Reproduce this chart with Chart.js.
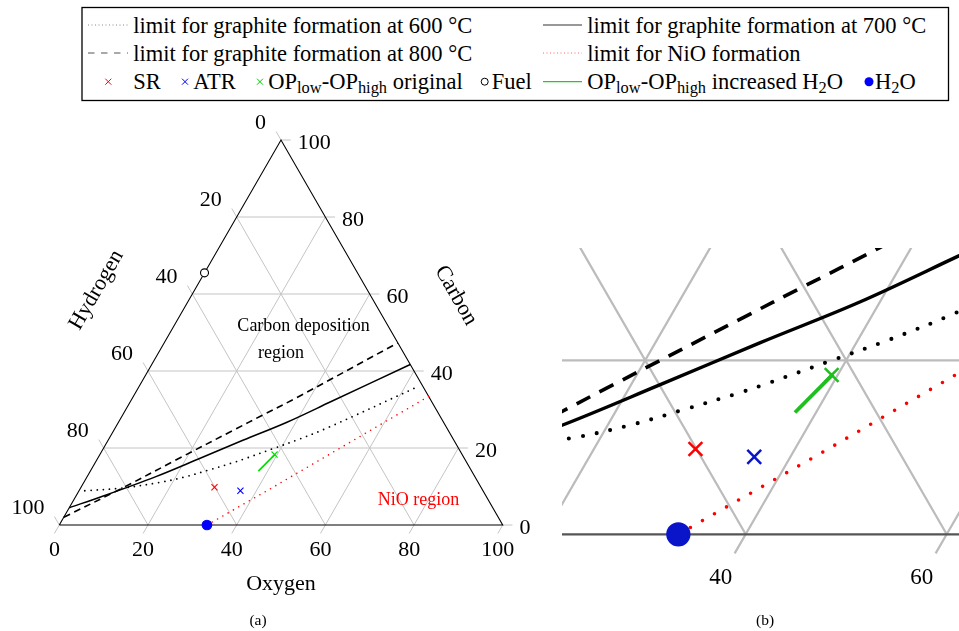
<!DOCTYPE html>
<html>
<head>
<meta charset="utf-8">
<script src="https://cdn.jsdelivr.net/npm/chart.js@4.4.0/dist/chart.umd.min.js"></script>
<style>
  html, body { margin: 0; padding: 0; background: #fff; }
  body { width: 959px; height: 631px; position: relative; overflow: hidden; }
  #legend { position: absolute; left: 0; top: 0; }
  #ternaryFull { position: absolute; left: 0; top: 0; }
  #ternaryZoom { position: absolute; left: 562px; top: 248px; }
</style>
</head>
<body>
<svg id="legend" width="959" height="110" font-family="Liberation Serif" font-size="22.5">
  <rect x="82" y="7.5" width="866.5" height="93" fill="none" stroke="#000" stroke-width="1.3"/>
  <line x1="88" x2="128" y1="25" y2="25" stroke="#888" stroke-width="1" stroke-dasharray="1 2.5"/>
  <line x1="88" x2="128" y1="53" y2="53" stroke="#555" stroke-width="1.2" stroke-dasharray="6.5 6.5"/>
  <line x1="543" x2="582" y1="25" y2="25" stroke="#333" stroke-width="1.2"/>
  <line x1="543" x2="582" y1="53" y2="53" stroke="#f66" stroke-width="1" stroke-dasharray="1 2.5"/>
  <line x1="543" x2="582" y1="81.7" y2="81.7" stroke="#2c2" stroke-width="1.3"/>
  <path d="M105.3 78.7 L111.3 84.7 M105.3 84.7 L111.3 78.7" stroke="#f00" stroke-width="1"/>
  <path d="M182 78.7 L188 84.7 M182 84.7 L188 78.7" stroke="#00f" stroke-width="1"/>
  <path d="M257 78.7 L263 84.7 M257 84.7 L263 78.7" stroke="#0c0" stroke-width="1"/>
  <circle cx="484.7" cy="81.7" r="3.5" fill="none" stroke="#000" stroke-width="1"/>
  <circle cx="869" cy="81.7" r="4.5" fill="#00f"/>
  <text x="133.3" y="33.3">limit for graphite formation at 600 °C</text>
  <text x="587.3" y="33.3">limit for graphite formation at 700 °C</text>
  <text x="133.3" y="61">limit for graphite formation at 800 °C</text>
  <text x="587.3" y="61">limit for NiO formation</text>
  <text x="133.3" y="89.3">SR</text>
  <text x="193.3" y="89.3">ATR</text>
  <text x="268.3" y="89.3">OP<tspan font-size="16.4" dy="4">low</tspan><tspan dy="-4">-OP</tspan><tspan font-size="16.4" dy="4">high</tspan><tspan dy="-4"> original</tspan></text>
  <text x="491.7" y="89.3">Fuel</text>
  <text x="587.3" y="89.3">OP<tspan font-size="16.4" dy="4">low</tspan><tspan dy="-4">-OP</tspan><tspan font-size="16.4" dy="4">high</tspan><tspan dy="-4"> increased H</tspan><tspan font-size="16.4" dy="4">2</tspan><tspan dy="-4">O</tspan></text>
  <text x="875" y="89.3">H<tspan font-size="16.4" dy="4">2</tspan><tspan dy="-4">O</tspan></text>
</svg>
<canvas id="ternaryFull" width="560" height="631"></canvas>
<canvas id="ternaryZoom" width="397" height="383"></canvas>
<script>
// Axis ticks, same for oxygen, carbon and hydrogen (mol-%)
const tickValues = [0, 20, 40, 60, 80, 100];

// Graphite formation limits as oxygen / carbon percentages, hydrogen is the remainder
const oxygen600 = [1.3, 9.3, 17.3, 22.1, 26.6, 31.1, 33.4, 38.6, 42.8, 47.8, 63.0];
const carbon600 = [8.9, 9.6, 11.1, 12.5, 14.3, 16.2, 17.3, 20.0, 22.2, 25.2, 36.0];
const oxygen700 = [0, 5.9, 15.4, 22.9, 30.4, 38.0, 45.2, 58.3];
const carbon700 = [4.5, 7.4, 12.5, 17.2, 22.0, 26.7, 32.0, 41.7];
const oxygen800 = [0, 9.3, 18.0, 27.4, 31.3, 36.8, 52.7];
const carbon800 = [2.0, 9.5, 17.0, 25.0, 28.3, 32.9, 47.3];

// NiO formation limit
const oxygenNiO = [33.3, 43.0, 66.6];
const carbonNiO = [0, 9.5, 33.4];

// Operating points
const oxygenSR = [30.1], carbonSR = [9.8];
const oxygenATR = [36.4], carbonATR = [8.9];
const oxygenOPorig = [39.4], carbonOPorig = [18.3];
const oxygenOPh2o = [37.9, 39.5], carbonOPh2o = [14.0, 18.4];
const oxygenFuel = [0], carbonFuel = [65.5];
const oxygenH2O = [33.3], carbonH2O = [0];

const TICK = 2.2; // tick length in % of the triangle side
const SERIF = "'Liberation Serif', 'Times New Roman', serif";

// ternary (oxygen, carbon) -> cartesian (x along base, y = carbon)
function pt(o, c) { return { x: o + c / 2, y: c }; }
function series(oArr, cArr) { return oArr.map((o, i) => pt(o, cArr[i])); }

function buildDatasets(k, colors) {
  const sets = [];
  const line = (data, color, width, order, extra) => Object.assign({
    data, showLine: true, borderColor: color, borderWidth: width * k,
    pointRadius: 0, fill: false, clip: false, order
  }, extra || {});
  const dotted = (spacing) => ({ borderDash: [0, spacing * k], borderCapStyle: 'round' });

  // grid lines plus ticks sticking out of the triangle
  tickValues.forEach(t => {
    if (t > 0 && t < 100) {
      const cLeft = pt(0, t), cRight = pt(100 - t, t);
      sets.push(line([cLeft, cRight, { x: cRight.x + TICK, y: t }], colors.grid, 1, 4));
      const oTop = pt(t, 100 - t), oBase = pt(t, 0);
      sets.push(line([oTop, oBase, { x: oBase.x - TICK / 2, y: -TICK }], colors.grid, 1, 4));
      const hBase = pt(100 - t, 0), hLeft = pt(0, 100 - t);
      sets.push(line([hBase, hLeft, { x: hLeft.x - TICK / 2, y: hLeft.y + TICK }], colors.grid, 1, 4));
    } else {
      const cs = pt(100 - t, t);
      sets.push(line([cs, { x: cs.x + TICK, y: t }], colors.grid, 1, 4));
      const os = pt(t, 0);
      sets.push(line([os, { x: os.x - TICK / 2, y: -TICK }], colors.grid, 1, 4));
      const hs = pt(0, 100 - t);
      sets.push(line([hs, { x: hs.x - TICK / 2, y: hs.y + TICK }], colors.grid, 1, 4));
    }
  });

  // triangle outline
  sets.push(line([pt(0, 0), pt(100, 0), pt(0, 100), pt(0, 0)], colors.frame, colors.frameWidth, 3));

  // limit curves
  sets.push(line(series(oxygen600, carbon600), '#000', 1.8, 2,
    Object.assign({ tension: 0.35 }, dotted(6.2))));
  sets.push(line(series(oxygen700, carbon700), '#000', 1.5, 2, { tension: 0.35 }));
  sets.push(line(series(oxygen800, carbon800), '#000', 1.6, 2,
    { tension: 0.35, borderDash: [6.8 * k, 4.6 * k] }));
  sets.push(line(series(oxygenNiO, carbonNiO), '#f00', 1.6, 2, dotted(6.1)));
  sets.push(line(series(oxygenOPh2o, carbonOPh2o), colors.green, 1.7, 1));

  // markers
  const mark = (data, style, color, radius, extra) => Object.assign({
    data, showLine: false, pointStyle: style, pointRadius: radius * k,
    pointBorderColor: color, pointBackgroundColor: color, pointBorderWidth: 1.1 * k,
    clip: false, order: 0
  }, extra || {});
  sets.push(mark(series(oxygenSR, carbonSR), 'crossRot', '#f00', 4.3));
  sets.push(mark(series(oxygenATR, carbonATR), 'crossRot', colors.blue, 4.3));
  sets.push(mark(series(oxygenOPorig, carbonOPorig), 'crossRot', colors.green, 4.3));
  sets.push(mark(series(oxygenFuel, carbonFuel), 'circle', '#000', 4, { pointBackgroundColor: '#fff' }));
  sets.push(mark(series(oxygenH2O, carbonH2O), 'circle', colors.blue, 4.8));
  return sets;
}

// axis numbers, titles and region annotations
const ternaryLabels = {
  id: 'ternaryLabels',
  afterDatasetsDraw(chart, args, opts) {
    const { ctx } = chart;
    const xs = chart.scales.x, ys = chart.scales.y;
    const px = (X, C) => ({ x: xs.getPixelForValue(X), y: ys.getPixelForValue(C) });
    ctx.save();
    ctx.fillStyle = '#000';
    ctx.textBaseline = 'alphabetic';
    if (opts.panel === 'full') {
      ctx.font = '22px ' + SERIF;
      tickValues.forEach(t => {
        // oxygen along the base
        const o = px(t - TICK / 2, -TICK);
        ctx.textAlign = 'center';
        ctx.fillText(String(t), o.x, o.y + 22.5);
        // carbon on the right side
        const c = px(100 - t / 2 + TICK, t);
        ctx.textAlign = 'left';
        ctx.fillText(String(t), c.x + 7, c.y + 8.5);
        // hydrogen on the left side
        const h = px((100 - t) / 2 - TICK / 2, 100 - t + TICK);
        ctx.textAlign = 'right';
        ctx.fillText(String(t), h.x - 10, h.y - 3);
      });

      ctx.textAlign = 'center';
      const base = px(50, 0);
      ctx.fillText('Oxygen', base.x, base.y + 65);

      const leftMid = px(25, 50);
      ctx.save();
      ctx.translate(leftMid.x - 0.866 * 85, leftMid.y - 0.5 * 85);
      ctx.rotate(-Math.PI / 3);
      ctx.textBaseline = 'middle';
      ctx.fillText('Hydrogen', 0, 0);
      ctx.restore();

      const rightMid = px(75, 50);
      ctx.save();
      ctx.translate(rightMid.x + 0.866 * 74, rightMid.y - 0.5 * 74);
      ctx.rotate(Math.PI / 3);
      ctx.textBaseline = 'middle';
      ctx.fillText('Carbon', 0, 0);
      ctx.restore();

      ctx.font = '18px ' + SERIF;
      const dep = px(55.1, 50.3);
      ctx.fillText('Carbon deposition', dep.x, dep.y);
      const reg = px(50.0, 43.5);
      ctx.fillText('region', reg.x, reg.y);
      ctx.fillStyle = '#f00';
      const nio = px(81.0, 5.2);
      ctx.fillText('NiO region', nio.x, nio.y);

      ctx.fillStyle = '#000';
      ctx.font = '15.5px ' + SERIF;
      ctx.fillText('(a)', 258, 625);
    } else {
      ctx.font = '23px ' + SERIF;
      ctx.textAlign = 'center';
      tickValues.forEach(t => {
        const o = px(t, 0);
        ctx.fillText(String(t), o.x - 25, o.y + 50);
      });
      ctx.font = '15.5px ' + SERIF;
      ctx.fillText('(b)', 765 - 562, 625 - 248);
    }
    ctx.restore();
  }
};

function makeChart(canvasId, k, colors, view, padding, panel) {
  return new Chart(document.getElementById(canvasId), {
    type: 'scatter',
    data: { datasets: buildDatasets(k, colors) },
    options: {
      responsive: false,
      animation: false,
      events: [],
      devicePixelRatio: 1,
      layout: { padding, autoPadding: false },
      scales: {
        x: { type: 'linear', display: false, bounds: 'data', min: view.xMin, max: view.xMax },
        y: { type: 'linear', display: false, bounds: 'data', min: view.yMin, max: view.yMax }
      },
      plugins: {
        legend: { display: false },
        tooltip: { enabled: false },
        ternaryLabels: { panel }
      }
    },
    plugins: [ternaryLabels]
  });
}

// (a) whole diagram
makeChart('ternaryFull', 1,
  { grid: '#c4c4c4', frame: '#000', frameWidth: 1.1, green: '#00e000', blue: '#0000ff' },
  { xMin: 0, xMax: 100, yMin: 0, yMax: 100 },
  { left: 59.3, right: 560 - 502.7, top: 140, bottom: 631 - 525 },
  'full');

// (b) enlarged window around the operating points
makeChart('ternaryZoom', 2.27,
  { grid: '#bcbcbc', frame: '#555', frameWidth: 1, green: '#1fbf1f', blue: '#0a14c8' },
  { xMin: 21.722, xMax: 61.224, yMin: -2.954, yMax: 32.908 },
  { left: 0, right: 0, top: 0, bottom: 71 },
  'zoom');
</script>
</body>
</html>
